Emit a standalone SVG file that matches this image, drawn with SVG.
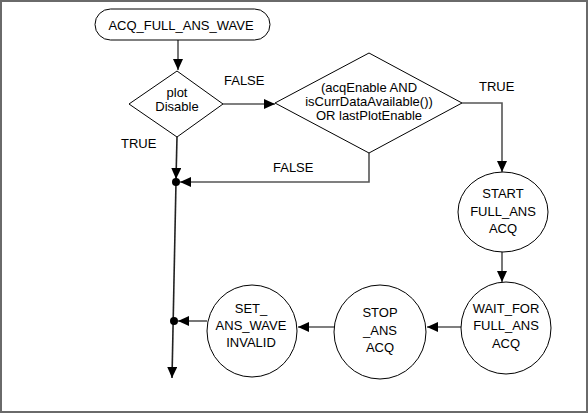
<svg xmlns="http://www.w3.org/2000/svg" width="588" height="413" viewBox="0 0 588 413">
<defs>
<style>
text{font-family:"Liberation Sans",Arial,sans-serif;font-size:13px;fill:#000;text-anchor:middle}
.lbl{text-anchor:start}
.shape{fill:#fff;stroke:#000;stroke-width:1}
.conn{fill:none;stroke:#555;stroke-width:1.6}
</style>
<marker id="arr" markerWidth="12" markerHeight="10" refX="11" refY="5" orient="auto" markerUnits="userSpaceOnUse">
<path d="M0,0 L11,5 L0,10 Z" fill="#000"/>
</marker>
</defs>
<rect x="1" y="1" width="586" height="411" fill="#fff" stroke="#6a6a6a" stroke-width="2"/>
<g id="connectors">
<path class="conn" d="M178,40 L178,70" marker-end="url(#arr)"/>
<path class="conn" d="M223,104 L275,104" marker-end="url(#arr)"/>
<path class="conn" d="M462,103 L502,103 L502,172" marker-end="url(#arr)"/>
<path class="conn" d="M369,153 L369,182 L180,182" marker-end="url(#arr)"/>
<path class="conn" d="M177,137 L176,179" marker-end="url(#arr)" style="stroke:#222"/>
<path class="conn" d="M176,182 L172,378" marker-end="url(#arr)" style="stroke:#222"/>
<path class="conn" d="M502,252 L502,282" marker-end="url(#arr)"/>
<path class="conn" d="M461,327 L427,327" marker-end="url(#arr)"/>
<path class="conn" d="M334,327 L298,327" marker-end="url(#arr)"/>
<path class="conn" d="M207,321 L178,321" marker-end="url(#arr)"/>
<circle cx="176" cy="182" r="4" fill="#000"/>
<circle cx="174" cy="321" r="4" fill="#000"/>
</g>
<g id="start">
<rect class="shape" x="95" y="9" width="175" height="31" rx="15.5"/>
<text x="181" y="30">ACQ_FULL_ANS_WAVE</text>
</g>
<g id="plotDisable">
<polygon class="shape" points="177,71 223,104 177,137 129,104"/>
<text x="177" y="97">plot</text>
<text x="177" y="111">Disable</text>
</g>
<g id="acqCheck">
<polygon class="shape" points="369,53 462,103 369,153 275,103"/>
<text x="369" y="92">(acqEnable AND</text>
<text x="369" y="106">isCurrDataAvailable())</text>
<text x="369" y="120">OR lastPlotEnable</text>
</g>
<g id="startFullAns">
<ellipse class="shape" cx="503" cy="212" rx="45" ry="40"/>
<text x="503" y="198">START</text>
<text x="503" y="216">FULL_ANS</text>
<text x="503" y="233">ACQ</text>
</g>
<g id="waitFor">
<ellipse class="shape" cx="506" cy="328" rx="45" ry="46"/>
<text x="506" y="313">WAIT_FOR</text>
<text x="506" y="330">FULL_ANS</text>
<text x="506" y="348">ACQ</text>
</g>
<g id="stopAns">
<ellipse class="shape" cx="380" cy="332" rx="46" ry="47"/>
<text x="380" y="317">STOP</text>
<text x="380" y="335">_ANS</text>
<text x="380" y="352">ACQ</text>
</g>
<g id="setInvalid">
<ellipse class="shape" cx="252" cy="331" rx="45" ry="46"/>
<text x="251" y="313">SET_</text>
<text x="251" y="330">ANS_WAVE</text>
<text x="251" y="347">INVALID</text>
</g>
<g id="labels">
<text class="lbl" x="224" y="85">FALSE</text>
<text class="lbl" x="121" y="148">TRUE</text>
<text class="lbl" x="479" y="91">TRUE</text>
<text class="lbl" x="273" y="172">FALSE</text>
</g>
</svg>
